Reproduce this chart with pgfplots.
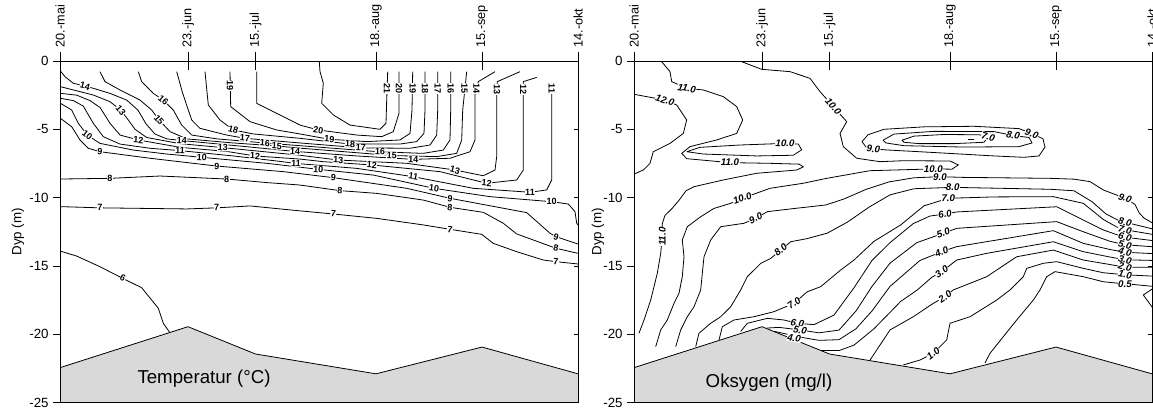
\documentclass[border=0pt]{standalone}
\usepackage{fontspec}
\setmainfont{Liberation Sans}
\usepackage{pgfplots}
\pgfplotsset{compat=1.18}
\newcommand\lblL{\fontsize{6.8}{7.5}\selectfont\bfseries}
\newcommand\lblR{\fontsize{7.3}{8}\selectfont\bfseries\itshape}
\pgfplotsset{
  base/.style={scale only axis, width=388.5pt, height=256.125pt, xmin=0, xmax=518, ymin=-25, ymax=0, anchor=north west},
  main/.style={base, axis on top, xtick=\empty, ytick={-25,-20,-15,-10,-5,0}, tick pos=left, tick align=outside,
    major tick length=5pt, yticklabel style={font=\fontsize{10}{11}\selectfont},
    /pgf/number format/assume math mode=true, axis line style={line width=0.6pt},
    tick style={line width=0.6pt, black}, ylabel={Dyp (m)}},
  dates/.style={base, axis x line*=top, axis y line=none, xtick={0,128,195.5,316,422,518},
    xticklabels={20.-mai,23.-jun,15.-jul,18.-aug,15.-sep,14.-okt}, tick align=center,
    major tick length=13.5pt, xticklabel style={rotate=90, anchor=west, font=\fontsize{9.5}{10}\selectfont},
    tick style={line width=0.6pt, black}, axis line style={line width=0.6pt}},
  rticks/.style={base, axis y line*=right, axis x line=none, ytick={-25,-20,-15,-10,-5,0}, yticklabels={},
    tick align=inside, major tick length=3pt, tick style={black, line width=0.6pt}, axis line style={line width=0.6pt}},
  cl/.style={black, line width=0.6pt, mark=none},
  lbl/.style={draw=none, mark=none, nodes near coords, point meta=explicit symbolic,
    visualization depends on={value \thisrow{a}\as\ang},
    every node near coord/.append style={anchor=center, rotate=\ang, fill=white, inner sep=0.3pt, text=black, font=#1}},
  bathy/.style={fill=black!15, draw=none},
}
\begin{document}
\begin{tikzpicture}
\path[use as bounding box] (0,0) rectangle (864.75pt,-305.25pt);
% ================= LEFT: temperature =================
\begin{axis}[main, at={(45pt,-45.75pt)}, ylabel style={at={(axis description cs:-0.081,0.5)}, anchor=center, font=\fontsize{10}{12}\selectfont}]
\addplot[cl] coordinates {(259.3,-0.05) (260,-0.78) (263.3,-1.63) (261.7,-3.1) (273.3,-3.95) (290,-4.69) (320,-5.0) (326,-4.56) (326.7,-2.86) (327.7,-0.78)};
\addplot[cl] coordinates {(196.7,-0.78) (196.7,-3.1) (216.7,-3.83) (240,-4.69) (258.3,-5.05) (296.7,-5.42) (321.7,-5.54) (333.3,-5.17) (339,-3.83) (339,-0.78)};
\addplot[cl] coordinates {(170,-0.78) (170.7,-3.34) (190,-4.44) (216.7,-5.05) (240,-5.34) (269.3,-5.73) (306.7,-5.9) (340,-5.78) (350,-5.3) (352,-3.59) (352.7,-0.78)};
\addplot[cl] coordinates {(145,-0.78) (148.3,-3.22) (160,-4.32) (173.3,-5.05) (193.3,-5.34) (240,-5.66) (290,-6.08) (340,-6.08) (356.7,-5.9) (364,-5.3) (365,-3.59) (365,-0.78)};
\addplot[cl] coordinates {(116.7,-0.78) (122.7,-2.37) (131.7,-4.32) (140,-4.93) (166.7,-5.42) (185,-5.66) (240,-6.0) (300.7,-6.36) (350,-6.39) (370,-6.15) (376.7,-5.42) (377.7,-3.59) (377.7,-0.78)};
\addplot[cl] coordinates {(78.3,-0.78) (81.7,-1.51) (93.3,-2.37) (103.3,-2.86) (113.3,-3.59) (121.7,-4.69) (131.7,-5.42) (156.7,-5.7) (205,-6.0) (240,-6.2) (320,-6.65) (363.3,-6.76) (383.3,-6.52) (390,-5.78) (390.7,-3.59) (390.7,-0.78)};
\addplot[cl] coordinates {(40,-0.78) (45,-1.51) (60,-2.12) (80,-2.86) (91.7,-3.59) (99,-4.32) (110,-5.17) (126.7,-5.7) (173.3,-6.0) (216.7,-6.22) (240,-6.38) (331.7,-6.92) (376.7,-7.0) (396.7,-6.76) (401.7,-5.78) (402.7,-3.59) (406.7,-0.78)};
\addplot[cl] coordinates {(1,-0.78) (5,-1.15) (13.3,-1.63) (25,-1.83) (33.3,-2.0) (50,-2.37) (66.7,-2.86) (78,-3.6) (86,-4.6) (95,-5.35) (106.7,-5.7) (121.7,-5.82) (173.3,-6.18) (235,-6.62) (296.7,-6.95) (353.3,-7.2) (390,-7.12) (410,-6.64) (415,-5.78) (415,-2.49) (418.3,-1.51) (435,-0.78)};
\addplot[cl] coordinates {(0.5,-1.88) (13.3,-2.12) (33.3,-2.49) (50,-2.98) (60.7,-3.59) (68.3,-4.32) (75,-5.0) (86.7,-5.6) (120,-6.05) (162.7,-6.34) (240,-6.9) (278.3,-7.25) (346.7,-7.49) (395,-7.98) (423.3,-8.4) (435,-7.98) (436.7,-7.0) (436.7,-2.49) (437.3,-1.51) (460,-0.78)};
\addplot[cl] coordinates {(0.5,-2.37) (16.7,-2.5) (30,-2.9) (40,-3.4) (50,-4.56) (60,-5.42) (78.3,-5.78) (120,-6.32) (166.7,-6.62) (195,-6.95) (240,-7.18) (263.3,-7.37) (311.7,-7.61) (380,-8.1) (426.7,-8.95) (456.7,-8.71) (463.3,-7.98) (463.3,-2.49) (463.3,-1.51) (476.7,-1.2)};
\addplot[cl] coordinates {(0.5,-2.73) (13.3,-2.9) (23.3,-3.3) (33.3,-4.56) (43.3,-5.54) (60,-6.08) (90,-6.39) (120,-6.56) (173.3,-6.95) (216.7,-7.32) (236,-7.5) (296.7,-7.86) (353.3,-8.47) (413.3,-9.32) (470,-9.61) (486.7,-9.44) (491.7,-8.71) (491.7,-2.49) (491.7,-1.6)};
\addplot[cl] coordinates {(0.5,-3.1) (11.7,-3.59) (18.3,-4.56) (27.3,-5.42) (40,-6.03) (73.3,-6.52) (106.7,-6.81) (141.7,-7.05) (206.7,-7.49) (258.3,-7.93) (313.3,-8.35) (374,-9.32) (430,-9.93) (491.7,-10.3) (508.3,-10.47) (515,-11.03) (516.7,-11.88) (518,-12.0)};
\addplot[cl] coordinates {(0.5,-4.2) (11.7,-4.81) (20,-5.78) (28.3,-6.39) (40,-6.64) (90,-7.12) (156.7,-7.69) (223.3,-8.1) (273.3,-8.54) (346.7,-9.32) (390,-10.05) (466.7,-11.1) (490,-12.61) (496,-12.86) (518,-13.4)};
\addplot[cl] coordinates {(0,-8.64) (50,-8.59) (100,-8.42) (166.7,-8.64) (206.7,-8.9) (240,-9.08) (280,-9.49) (316.7,-9.69) (363.3,-10.18) (390,-10.71) (423.3,-11.08) (443.3,-11.88) (456.7,-12.66) (496,-13.71) (518,-14.08)};
\addplot[cl] coordinates {(0,-10.66) (40,-10.75) (126.7,-10.83) (156.7,-10.75) (190,-10.61) (230,-10.9) (273.3,-11.2) (316.7,-11.52) (363.3,-12.0) (390,-12.32) (421.7,-12.69) (433.3,-13.35) (456.7,-13.96) (483.3,-14.57) (496,-14.69) (518,-14.86)};
\addplot[cl] coordinates {(0,-13.91) (16.7,-14.28) (40,-15.06) (62.7,-15.91) (81.7,-16.6) (98.3,-18.1) (103.3,-19.2) (110,-19.9)};
\addplot[lbl=\lblL] table[x=x, y=y, meta=t] {
x y a t
327 -2.0 -90 21
258.3 -5.05 -8 20
339 -2.0 -90 20
170 -1.83 -90 19
269.3 -5.73 -5 19
352.7 -2.0 -90 19
173.3 -5.05 -15 18
290 -6.08 -3 18
365 -2.0 -90 18
185 -5.66 -5 17
300.7 -6.36 -3 17
377.7 -2.0 -90 17
103.3 -2.86 -40 16
205 -6.0 -5 16
320 -6.65 -3 16
390.7 -2.0 -90 16
99 -4.32 -50 15
216.7 -6.22 -3 15
331.7 -6.92 -3 15
404.5 -2.0 -90 15
25 -1.83 -15 14
121.7 -5.82 -3 14
235 -6.62 -3 14
353.3 -7.2 -3 14
416.6 -2.0 -90 14
60.7 -3.59 -50 13
162.7 -6.34 -3 13
278.3 -7.25 -3 13
395 -7.98 -15 13
437 -2.07 -90 13
78.3 -5.78 -5 12
195 -6.95 -3 12
311.7 -7.61 -3 12
426.7 -8.95 -5 12
463.3 -2.07 -90 12
120 -6.56 -3 11
236 -7.5 -3 11
353.3 -8.47 -10 11
470 -9.61 0 11
491.7 -2.0 -90 11
27.3 -5.42 -38 10
141.7 -7.05 -3 10
258.3 -7.93 -3 10
374 -9.32 -8 10
491.7 -10.3 0 10
40 -6.64 -5 9
156.7 -7.69 -3 9
273.3 -8.54 -5 9
390 -10.05 -8 9
496 -12.86 -15 9
50 -8.59 0 8
166.7 -8.64 0 8
280 -9.49 -5 8
390 -10.71 -5 8
496 -13.71 -12 8
40 -10.75 0 7
156.7 -10.75 0 7
273.3 -11.2 -5 7
390 -12.32 -7 7
496 -14.69 -5 7
62.7 -15.91 -27 6
};
\addplot[bathy] coordinates {(0,-22.45) (128,-19.45) (195.5,-21.45) (316,-22.9) (422,-20.94) (518,-22.9) (518,-25) (0,-25)} -- cycle;
\addplot[cl] coordinates {(0,-22.45) (128,-19.45) (195.5,-21.45) (316,-22.9) (422,-20.94) (518,-22.9)};
\node[font=\fontsize{14}{16}\selectfont] at (axis cs:144,-23.23) {Temperatur (°C)};
\end{axis}
\begin{axis}[dates, at={(45pt,-45.75pt)}]
\end{axis}
\begin{axis}[rticks, at={(45pt,-45.75pt)}]
\end{axis}
% ================= RIGHT: oxygen =================
\begin{axis}[main, at={(475.5pt,-45.75pt)}, ylabel style={at={(axis description cs:-0.0695,0.5)}, anchor=center, font=\fontsize{10}{12}\selectfont}]
\addplot[cl] coordinates {(0.3,-2.44) (31,-2.86) (42.7,-3.22) (52.7,-4.32) (49.3,-5.3) (36,-6.03) (19.3,-6.64) (16,-7.49) (9.3,-7.98) (0.3,-8.27)};
\addplot[cl] coordinates {(27.7,-0.05) (36,-0.78) (37.7,-1.51) (52.7,-2.0) (69.3,-2.12) (89.3,-2.61) (102.7,-3.34) (108.7,-4.32) (102.7,-5.3) (82.7,-5.78) (56,-6.27) (47.7,-6.76) (52.7,-7.15) (96,-7.44) (136,-7.49) (165,-7.55) (169.3,-7.75) (162.7,-7.98) (122.7,-8.22) (89.3,-8.71) (60,-9.2) (52,-9.5) (45,-10.2) (38,-10.8) (31,-11.3) (28.3,-11.9) (28.3,-12.86) (26.7,-14.08) (23.3,-15.54) (16.7,-17.5) (10,-18.96) (5,-19.93)};
\addplot[cl] coordinates {(52.7,-6.64) (66,-6.32) (106,-6.15) (151,-6.03) (164.3,-6.08) (167.7,-6.5) (159.3,-6.9) (122.7,-6.95) (69.3,-6.81) (52.7,-6.64)};
\addplot[cl] coordinates {(107.7,-0.05) (127.7,-0.61) (156,-0.78) (176,-1.27) (186,-2.24) (199.3,-3.34) (212.7,-4.44) (206,-5.3) (209.3,-6.27) (222.7,-7.12) (246,-7.37) (269.3,-7.3) (316,-7.32) (324.3,-7.61) (318,-7.92) (299.3,-7.9) (236,-8.03) (192.7,-8.59) (169.3,-8.95) (136,-9.32) (108.3,-10.05) (96.7,-10.42) (80,-10.79) (66.7,-11.4) (53.3,-12.13) (48.3,-13.1) (50,-14.33) (48.3,-15.79) (45,-17.0) (40,-17.74) (33.3,-18.96) (26.7,-19.69) (21.7,-20.91)};
\addplot[cl] coordinates {(228,-5.9) (234,-5.4) (250,-5.0) (290,-4.82) (340,-4.78) (385,-4.95) (397.7,-5.3) (409,-5.7) (411,-6.3) (405,-6.95) (390,-7.05) (360,-6.95) (300,-6.7) (250,-6.5) (232,-6.3) (228,-5.9)};
\addplot[cl] coordinates {(249,-5.8) (260,-5.35) (300,-5.15) (360,-5.17) (379,-5.45) (395,-5.6) (398,-6.0) (385,-6.27) (330,-6.3) (270,-6.2) (252,-6.0) (249,-5.8)};
\addplot[cl] coordinates {(268,-5.8) (280,-5.5) (310,-5.38) (345,-5.4) (354.3,-5.54) (350,-5.95) (320,-6.05) (285,-6.05) (270,-5.95) (268,-5.8)};
\addplot[cl] coordinates {(334,-5.75) (340,-5.75)};
\addplot[cl] coordinates {(41.7,-20.91) (46.7,-19.69) (53.3,-18.72) (60,-17.99) (66.7,-16.76) (68.3,-15.54) (70,-14.33) (76.7,-13.1) (86.7,-12.13) (110,-11.88) (121.7,-11.52) (133.3,-11.03) (160,-10.8) (191.7,-10.54) (210,-10.1) (232,-9.4) (255,-8.85) (280,-8.55) (306,-8.47) (329.3,-8.52) (416,-8.59) (440,-8.65) (456,-8.83) (469.3,-9.44) (491,-10.05) (501,-10.5) (505,-11.1) (510,-11.5) (519,-11.88)};
\addplot[cl] coordinates {(61.7,-20.91) (65,-19.93) (76.7,-19.2) (86.7,-18.72) (96.7,-17.99) (106.7,-16.76) (113.3,-15.79) (126.7,-14.82) (136.7,-14.45) (146.7,-13.84) (156.7,-13.23) (173.3,-13.0) (193.3,-12.6) (213.3,-11.8) (235,-10.7) (256,-9.8) (280,-9.35) (318.7,-9.25) (416,-9.39) (440,-9.5) (458,-10.3) (472,-11.2) (484,-11.65) (491,-11.8) (519,-12.3)};
\addplot[cl] coordinates {(85,-20.42) (88.3,-19.45) (100,-18.96) (120,-18.72) (140,-18.35) (160,-17.74) (173.3,-16.89) (186.7,-16.52) (206.7,-15.3) (220,-14.57) (240,-13.2) (266.7,-12.0) (290,-10.6) (314.3,-10.05) (360,-9.95) (419.3,-9.93) (449.3,-10.42) (469.3,-11.6) (482.7,-12.15) (491,-12.35) (519,-12.7)};
\addplot[cl] coordinates {(106.7,-19.8) (113.3,-19.2) (133.3,-18.84) (150,-18.96) (163.3,-19.2) (180,-19.3) (200,-18.6) (220,-16.6) (238,-14.6) (256,-13.3) (279.3,-11.9) (296,-11.35) (311,-11.2) (322.7,-11.05) (422.7,-10.67) (449.3,-11.64) (469.3,-12.37) (484.3,-12.75) (491,-12.9) (519,-13.15)};
\addplot[cl] coordinates {(133,-19.55) (145,-19.5) (166,-19.69) (185,-19.9) (205,-19.7) (222,-18.3) (238,-16.5) (256,-14.8) (282.7,-13.3) (309.3,-12.61) (322.7,-12.25) (422.7,-11.76) (449.3,-12.5) (476,-13.2) (491,-13.45) (519,-13.6)};
\addplot[cl] coordinates {(141,-19.8) (150,-19.95) (165,-20.2) (185,-20.45) (205,-20.4) (222,-19.6) (238,-18.3) (256,-16.5) (286,-14.6) (307.7,-13.96) (322.7,-13.59) (419.3,-12.42) (449.3,-13.35) (476,-13.8) (491,-14.0) (519,-14.1)};
\addplot[cl] coordinates {(187,-21.2) (205,-21.2) (220,-20.8) (240,-19.6) (266.7,-17.6) (283.3,-16.76) (297.7,-15.84) (307.7,-15.42) (322.7,-14.57) (352.7,-14.08) (419.3,-13.23) (449.3,-13.96) (476,-14.35) (491,-14.55) (519,-14.6)};
\addplot[cl] coordinates {(236,-21.9) (256,-19.69) (279.3,-18.72) (299.3,-17.74) (311,-17.25) (319.3,-16.76) (352.7,-15.79) (382.7,-14.33) (419.3,-13.84) (449.3,-14.57) (476,-14.9) (491,-15.1) (519,-15.1)};
\addplot[cl] coordinates {(269.3,-22.25) (286,-21.89) (299.3,-21.4) (312.7,-20.42) (316,-19.2) (336,-18.72) (362.7,-17.5) (376,-16.76) (389.3,-15.79) (392.7,-15.18) (409.3,-14.81) (422.7,-14.69) (449.3,-15.18) (469.3,-15.5) (491,-15.65) (519,-15.75)};
\addplot[cl] coordinates {(351,-22.1) (356,-21.4) (369.3,-20.18) (382.7,-18.96) (399.3,-17.5) (406,-16.76) (412.7,-15.79) (421,-15.42) (449.3,-15.79) (469.3,-16.16) (484.3,-16.27) (491,-16.3) (519,-16.5)};
\addplot[cl] coordinates {(519,-16.65) (509.3,-17.13) (519,-18.1)};
\addplot[lbl=\lblR] table[x=x, y=y, meta=t] {
x y a t
31 -2.86 -18 12.0
52.7 -2.0 -10 11.0
96 -7.44 0 11.0
28.3 -12.86 90 11.0
151 -6.03 -3 10.0
199.3 -3.34 -50 10.0
299.3 -7.9 0 10.0
108.3 -10.05 20 10.0
239.3 -6.45 -5 9.0
397.7 -5.3 -20 9.0
379 -5.45 -10 8.0
354.3 -5.54 -15 7.0
121.7 -11.52 25 9.0
306 -8.47 0 9.0
491 -10.05 -20 9.0
146.7 -13.84 40 8.0
318.7 -9.25 0 8.0
491 -11.8 -15 8.0
160 -17.74 35 7.0
314.3 -10.05 0 7.0
491 -12.35 -15 7.0
163.3 -19.2 -10 6.0
311 -11.2 10 6.0
491 -12.9 -15 6.0
166 -19.69 -10 5.0
309.3 -12.61 20 5.0
491 -13.45 -15 5.0
160 -20.3 -10 4.0
307.7 -13.96 22 4.0
491 -14.0 -15 4.0
307.7 -15.42 33 3.0
491 -14.55 -15 3.0
311 -17.25 35 2.0
491 -15.1 -15 2.0
299.3 -21.4 37 1.0
491 -15.65 -10 1.0
491 -16.3 0 0.5
};
\addplot[bathy] coordinates {(0,-22.45) (128,-19.45) (195.5,-21.45) (316,-22.9) (422,-20.94) (518,-22.9) (518,-25) (0,-25)} -- cycle;
\addplot[cl] coordinates {(0,-22.45) (128,-19.45) (195.5,-21.45) (316,-22.9) (422,-20.94) (518,-22.9)};
\node[font=\fontsize{14}{16}\selectfont] at (axis cs:135,-23.55) {Oksygen (mg/l)};
\end{axis}
\begin{axis}[dates, at={(475.5pt,-45.75pt)}]
\end{axis}
\begin{axis}[rticks, at={(475.5pt,-45.75pt)}]
\end{axis}
\end{tikzpicture}
\end{document}
